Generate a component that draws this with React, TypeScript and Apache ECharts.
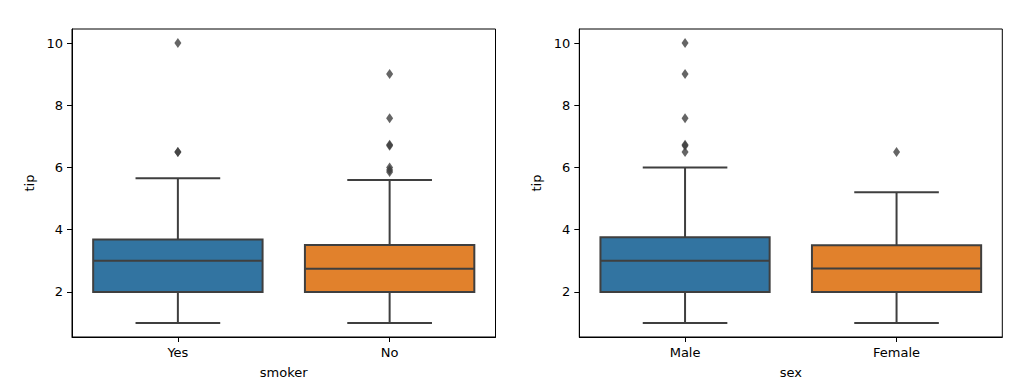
import React, { useEffect, useRef } from "react";
import * as echarts from "echarts";

// ---- data ----
const smokerCategories = ["Yes", "No"];
// [low whisker, Q1, median, Q3, high whisker]
const smokerBoxes = [
  [1.0, 2.0, 3.0, 3.68, 5.65],
  [1.0, 2.0, 2.74, 3.505, 5.6],
];
const smokerOutliers = [
  [0, 6.5], [0, 6.5], [0, 10.0],
  [1, 9.0], [1, 7.58], [1, 6.73], [1, 6.7], [1, 6.0], [1, 5.92], [1, 5.85],
];
const sexCategories = ["Male", "Female"];
const sexBoxes = [
  [1.0, 2.0, 3.0, 3.76, 6.0],
  [1.0, 2.0, 2.75, 3.5, 5.2],
];
const sexOutliers = [
  [0, 10.0], [0, 9.0], [0, 7.58], [0, 6.73], [0, 6.7], [0, 6.5],
  [1, 6.5],
];
const yTicks = [2, 4, 6, 8, 10];
const boxColors = ["#3274a1", "#e1812c"];

const EDGE = "#3f3f3f";
const FONT = "DejaVu Sans";

function renderBox(params: any, api: any) {
  const cat = api.value(0);
  const low = api.value(1);
  const q1 = api.value(2);
  const med = api.value(3);
  const q3 = api.value(4);
  const high = api.value(5);
  const band = api.size([1, 0])[0];
  const w = band * 0.8;
  const capW = w / 2;
  const pLow = api.coord([cat, low]);
  const pQ1 = api.coord([cat, q1]);
  const pMed = api.coord([cat, med]);
  const pQ3 = api.coord([cat, q3]);
  const pHigh = api.coord([cat, high]);
  const cx = pLow[0];
  const ls = { stroke: EDGE, lineWidth: 2, fill: null };
  return {
    type: "group",
    children: [
      { type: "line", shape: { x1: cx, y1: pQ1[1], x2: cx, y2: pLow[1] }, style: ls },
      { type: "line", shape: { x1: cx, y1: pQ3[1], x2: cx, y2: pHigh[1] }, style: ls },
      { type: "line", shape: { x1: cx - capW / 2, y1: pLow[1], x2: cx + capW / 2, y2: pLow[1] }, style: ls },
      { type: "line", shape: { x1: cx - capW / 2, y1: pHigh[1], x2: cx + capW / 2, y2: pHigh[1] }, style: ls },
      {
        type: "rect",
        shape: { x: cx - w / 2, y: pQ3[1], width: w, height: pQ1[1] - pQ3[1] },
        style: { fill: boxColors[params.dataIndex], stroke: EDGE, lineWidth: 2 },
      },
      { type: "line", shape: { x1: cx - w / 2, y1: pMed[1], x2: cx + w / 2, y2: pMed[1] }, style: ls },
    ],
  };
}

export default function App() {
  const ref = useRef<HTMLDivElement>(null);
  useEffect(() => {
    document.body.style.margin = "0";
    const chart = echarts.init(ref.current!, null, { renderer: "svg" });
    const textStyle = { color: "#000", fontFamily: FONT, fontSize: 13 };
    const mkX = (gridIndex: number, data: string[], name: string) => ({
      type: "category",
      gridIndex,
      data,
      boundaryGap: true,
      name,
      nameLocation: "middle",
      nameGap: 29,
      nameTextStyle: textStyle,
      axisLine: { show: true, lineStyle: { color: "#000", width: 1 } },
      axisTick: { show: true, alignWithLabel: true, length: 5, lineStyle: { color: "#000" } },
      axisLabel: { ...textStyle, margin: 9 },
      splitLine: { show: false },
    });
    const mkY = (gridIndex: number) => ({
      type: "value",
      gridIndex,
      min: 0.55,
      max: 10.45,
      name: "tip",
      nameLocation: "middle",
      nameGap: 36,
      nameTextStyle: textStyle,
      axisLine: { show: true, lineStyle: { color: "#000", width: 1 } },
      axisTick: { show: true, length: 5, customValues: yTicks, lineStyle: { color: "#000" } },
      axisLabel: { ...textStyle, margin: 9, customValues: yTicks },
      splitLine: { show: false },
    });
    const mkBox = (idx: number, boxes: number[][]) => ({
      type: "custom",
      xAxisIndex: idx,
      yAxisIndex: idx,
      renderItem: renderBox,
      encode: { x: 0, y: [1, 2, 3, 4, 5] },
      data: boxes.map((b, i) => [i, ...b]),
      z: 2,
    });
    const mkOut = (idx: number, pts: number[][]) => ({
      type: "scatter",
      xAxisIndex: idx,
      yAxisIndex: idx,
      symbol: "diamond",
      symbolSize: [7, 10],
      itemStyle: { color: EDGE },
      data: pts,
      z: 3,
    });
    chart.setOption({
      animation: false,
      backgroundColor: "#fff",
      grid: [
        { left: 72, right: 534.5, top: 29, bottom: 45, show: true, borderColor: "#000", borderWidth: 1, containLabel: false, outerBoundsMode: "none" },
        { left: 579.3, right: 27.7, top: 29, bottom: 45, show: true, borderColor: "#000", borderWidth: 1, containLabel: false, outerBoundsMode: "none" },
      ],
      xAxis: [mkX(0, smokerCategories, "smoker"), mkX(1, sexCategories, "sex")],
      yAxis: [mkY(0), mkY(1)],
      series: [
        mkBox(0, smokerBoxes),
        mkOut(0, smokerOutliers),
        mkBox(1, sexBoxes),
        mkOut(1, sexOutliers),
      ],
    });
    return () => chart.dispose();
  }, []);
  return (
    <div
      ref={ref}
      style={{ position: "fixed", left: 0, top: 0, width: 1030, height: 382 }}
    />
  );
}
